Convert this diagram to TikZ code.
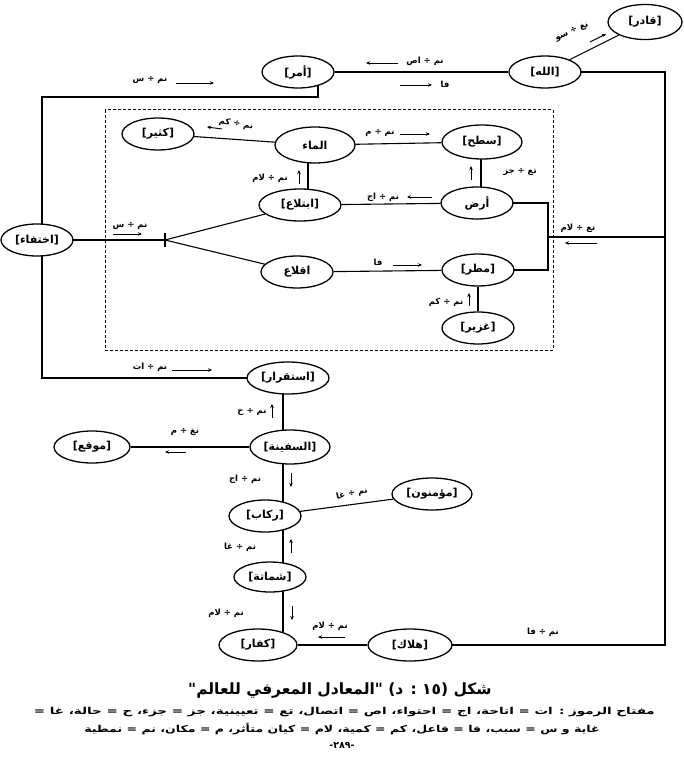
\documentclass[tikz,border=0pt]{standalone}
\usepackage{fontspec}
\usepackage{graphicx}
\TeXXeTstate=1
\newfontfamily\arfont[Script=Arabic]{DejaVu Sans}
\newfontfamily\brfont{DejaVu Sans}
\usetikzlibrary{shapes.geometric,arrows.meta,backgrounds}
\newcommand\RTLtxt[1]{\beginR #1\endR}
\newcommand\BRtxt[1]{{\brfont\bfseries[}\beginR #1\endR{\brfont\bfseries]}}
\tikzset{
  con/.style={ellipse,draw,fill=white,line width=1.3pt,minimum width=72pt,minimum height=32pt,inner sep=0pt,font=\arfont\bfseries\fontsize{11}{13}\selectfont},
  ln/.style={line width=1.1pt},
  lbl/.style={font=\arfont\bfseries\fontsize{8.5}{10}\selectfont,inner sep=1pt},
  arr/.style={-{Stealth[length=4pt,width=3.5pt]},line width=0.9pt},
  box/.style={dash pattern=on 3pt off 2pt,line width=1pt},
  keytxt/.style={font=\arfont\bfseries\fontsize{9.5}{11}\selectfont,inner sep=0pt},
}
\begin{document}
\begin{tikzpicture}[x=1pt,y=-1pt]
\useasboundingbox (0,0) rectangle (683,767);
% concepts
\node[con,minimum width=74pt,minimum height=35pt] (qadir) at (645,22) {\BRtxt{قادر}};
\node[con] (allah) at (545,72) {\BRtxt{الله}};
\node[con] (amr) at (298,72) {\BRtxt{أمر}};
\node[con] (kathir) at (158,134) {\BRtxt{كثير}};
\node[con,minimum width=80pt,minimum height=36pt] (maa) at (315,145) {\RTLtxt{الماء}};
\node[con,minimum width=80pt,minimum height=34pt] (sath) at (482,142) {\BRtxt{سطح}};
\node[con,minimum width=82pt] (ibt) at (300,205) {\BRtxt{ابتلاع}};
\node[con] (ard) at (477,203) {\RTLtxt{أرض}};
\node[con] (ikht) at (37,240) {\BRtxt{اختفاء}};
\node[con] (iqla) at (297,272) {\RTLtxt{اقلاع}};
\node[con] (matar) at (478,270) {\BRtxt{مطر}};
\node[con] (ghazir) at (478,328) {\BRtxt{غزير}};
\node[con,minimum width=82pt] (istq) at (288,378) {\BRtxt{استقرار}};
\node[con,minimum width=80pt,minimum height=34pt] (safina) at (290,447) {\BRtxt{السفينة}};
\node[con,minimum width=76pt] (mawqi) at (92,447) {\BRtxt{موقع}};
\node[con,minimum width=80pt] (muminun) at (432,494) {\BRtxt{مؤمنون}};
\node[con] (rukkab) at (265,516) {\BRtxt{ركاب}};
\node[con,minimum height=30pt] (shamata) at (270,577) {\BRtxt{شماتة}};
\node[con,minimum width=78pt] (kuffar) at (258,645) {\BRtxt{كفار}};
\node[con,minimum width=84pt] (halak) at (410,645) {\BRtxt{هلاك}};
% helper coordinates
\coordinate (vx) at (283,0);
\coordinate (rx) at (665,0);
\coordinate (lx) at (42,0);
\coordinate (ax) at (318,97);
\coordinate (fork) at (165,240);
\coordinate (brx) at (548,0);
\begin{scope}[on background layer]
\draw[box] (105,110) rectangle (553,350);
\draw[ln] (amr) -- (allah);
\draw[ln] (qadir) -- (allah);
\draw[ln] (allah.center) -- (allah.center -| rx) -- (halak.center -| rx) -- (halak.center);
\draw[ln] (ax |- amr.center) -- (ax) -- (ax -| lx) -- (lx |- ikht.center);
\draw[ln] (lx |- ikht.center) -- (lx |- istq.center) -- (istq.center);
\draw[ln] (maa) -- (kathir);
\draw[ln] (maa) -- (sath);
\draw[ln] (308,145) -- (308,205);
\draw[ln] (sath.center -| 481,0) -- (ard.center -| 481,0);
\draw[ln] (ibt) -- (ard);
\draw[ln] (ard.center) -- (ard.center -| brx) -- (matar.center -| brx) -- (matar.center);
\draw[ln] (brx |- 0,237) -- (rx |- 0,237);
\draw[ln] (ikht.center) -- (fork);
\draw[ln] (fork) ++(0,-7) -- ++(0,14);
\draw[ln] (fork) -- (ibt);
\draw[ln] (fork) -- (iqla);
\draw[ln] (iqla) -- (matar);
\draw[ln] (matar) -- (ghazir);
\draw[ln] (istq.center -| vx) -- (safina.center -| vx);
\draw[ln] (safina.center -| vx) -- (rukkab.center -| vx);
\draw[ln] (rukkab.center -| vx) -- (shamata.center -| vx);
\draw[ln] (shamata.center -| vx) -- (kuffar.center -| vx);
\draw[ln] (safina) -- (mawqi);
\draw[ln] (rukkab) -- (muminun);
\draw[ln] (kuffar) -- (halak);
\end{scope}
% relation labels
\node[lbl] (l1) at (425,61) {\RTLtxt{نم ÷ اص}};
\draw[arr] (398,63) -- (366,63);
\node[lbl] (l2) at (445,84) {\RTLtxt{فا}};
\draw[arr] (400,85) -- (432,85);
\node[lbl,rotate=24] (l3) at (572,32) {\RTLtxt{نغ ÷ سو}};
\draw[arr] (590,42) -- (606,34);
\node[lbl] (l4) at (150,80) {\RTLtxt{نم ÷ س}};
\draw[arr] (176,83) -- (214,83);
\node[lbl,rotate=-8] (l5) at (236,124) {\RTLtxt{نم ÷ كم}};
\draw[arr] (222,129) -- (207,127);
\node[lbl] (l6) at (380,133) {\RTLtxt{نم ÷ م}};
\draw[arr] (400,134) -- (430,134);
\node[lbl] (l7) at (270,178) {\RTLtxt{نم ÷ لام}};
\draw[arr] (299,184) -- (299,170);
\node[lbl] (l8) at (520,172) {\RTLtxt{تع ÷ جز}};
\draw[arr] (471,180) -- (471,166);
\node[lbl] (l9) at (383,197) {\RTLtxt{نم ÷ اج}};
\draw[arr] (432,197) -- (407,197);
\node[lbl] (l10) at (578,228) {\RTLtxt{تع ÷ لام}};
\draw[arr] (597,243) -- (565,243);
\node[lbl] (l11) at (130,226) {\RTLtxt{نم ÷ س}};
\draw[arr] (113,234) -- (142,234);
\node[lbl] (l12) at (378,262) {\RTLtxt{فا}};
\draw[arr] (393,265) -- (422,265);
\node[lbl] (l13) at (446,302) {\RTLtxt{نم ÷ كم}};
\draw[arr] (469,306) -- (469,293);
\node[lbl] (l14) at (150,367) {\RTLtxt{نم ÷ ات}};
\draw[arr] (172,370) -- (212,370);
\node[lbl] (l15) at (252,412) {\RTLtxt{نم ÷ ح}};
\draw[arr] (272,418) -- (272,404);
\node[lbl] (l16) at (185,432) {\RTLtxt{نغ ÷ م}};
\draw[arr] (186,452) -- (165,452);
\node[lbl] (l17) at (245,479) {\RTLtxt{نم ÷ اج}};
\draw[arr] (291,473) -- (291,487);
\node[lbl,rotate=12] (l18) at (352,494) {\RTLtxt{نم ÷ غا}};
\node[lbl] (l19) at (240,547) {\RTLtxt{نم ÷ غا}};
\draw[arr] (291,553) -- (291,539);
\node[lbl] (l20) at (226,613) {\RTLtxt{نم ÷ لام}};
\draw[arr] (292,606) -- (292,620);
\node[lbl] (l21) at (330,626) {\RTLtxt{نم ÷ لام}};
\draw[arr] (345,637) -- (318,637);
\node[lbl] (l22) at (543,632) {\RTLtxt{نم ÷ فا}};
% caption and key
\node[font=\arfont\bfseries\fontsize{15.5}{18}\selectfont,inner sep=0pt] (cap) at (340,690)
  {\RTLtxt{شكل (١٥ : د) "المعادل المعرفي للعالم"}};
\node[keytxt] (key1) at (342,712) {\scalebox{1.42}[1]{\RTLtxt{مفتاح الرموز : ات = اتاحة، اج = احتواء، اص = اتصال، تع = تعيينية، جز = جزء، ح = حالة، غا = }}};
\node[keytxt] (key2) at (342,729) {\scalebox{1.32}[1]{\RTLtxt{غاية و س = سبب، فا = فاعل، كم = كمية، لام = كيان متأثر، م = مكان، نم = نمطية}}};
\node[keytxt] (key3) at (342,745) {-٢٨٩-};
\end{tikzpicture}
\end{document}
